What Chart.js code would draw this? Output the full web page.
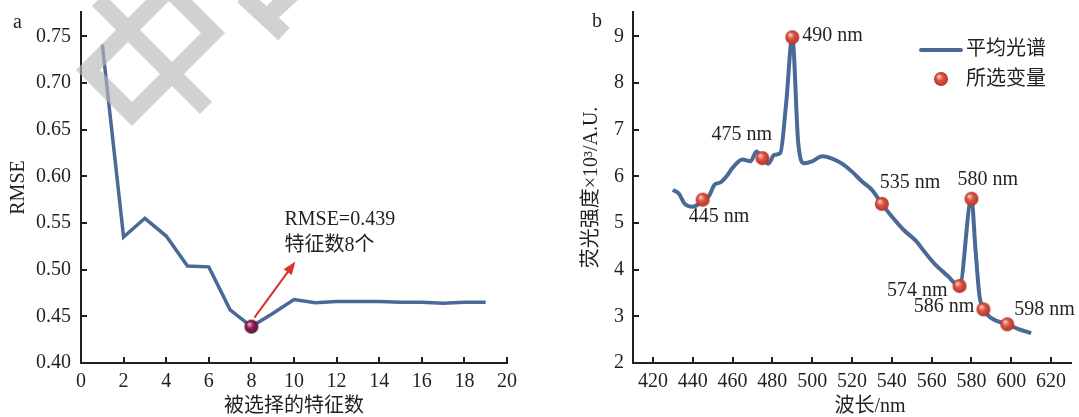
<!DOCTYPE html>
<html>
<head>
<meta charset="utf-8">
<script src="https://cdn.jsdelivr.net/npm/chart.js@4.4.0/dist/chart.umd.min.js"></script>
<style>
html, body { margin: 0; padding: 0; background: #fff; }
#wrap { position: relative; width: 1079px; height: 417px; overflow: hidden; }
#chartA { position: absolute; left: 0; top: 0; }
#chartB { position: absolute; left: 540px; top: 0; }
</style>
</head>
<body>
<div id="wrap">
  <canvas id="chartA" width="540" height="417"></canvas>
  <canvas id="chartB" width="539" height="417"></canvas>
</div>
<script>
// ---- panel a: RMSE against number of selected features
const featureCounts = [1, 2, 3, 4, 5, 6, 7, 8, 9, 10, 11, 12, 13, 14, 15, 16, 17, 18, 19];
const rmseValues = [0.741, 0.535, 0.555, 0.536, 0.504, 0.503, 0.457, 0.439, 0.453, 0.468,
                    0.4645, 0.466, 0.466, 0.466, 0.465, 0.465, 0.464, 0.465, 0.465];
const bestCount = 8;
const bestRmse = 0.439;
const aXTicks = [0, 2, 4, 6, 8, 10, 12, 14, 16, 18, 20];
const aYTicks = [0.40, 0.45, 0.50, 0.55, 0.60, 0.65, 0.70, 0.75];

// ---- panel b: mean fluorescence spectrum and selected wavelengths
const wavelengths = [430, 433, 436, 440, 443, 445, 448, 451, 454, 457, 460, 465, 469, 472, 475, 478,
                     481, 484, 487, 490, 493, 496, 500, 505, 510, 515, 520, 525, 530, 535, 540, 546,
                     552, 557, 562, 568, 574, 580, 582, 584, 586, 590, 598, 604, 610];
const intensities = [5.71, 5.63, 5.41, 5.35, 5.41, 5.50, 5.57, 5.82, 5.87, 6.00, 6.18, 6.36, 6.32, 6.53, 6.39, 6.27,
                     6.46, 6.50, 7.60, 8.98, 6.71, 6.28, 6.32, 6.43, 6.38, 6.27, 6.10, 5.89, 5.71, 5.41, 5.14, 4.85,
                     4.62, 4.35, 4.10, 3.87, 3.65, 5.52, 4.45, 3.45, 3.15, 2.96, 2.83, 2.72, 2.64];
const selectedWl = [445, 475, 490, 535, 574, 580, 586, 598];
const selectedVal = [5.50, 6.39, 8.98, 5.41, 3.65, 5.52, 3.15, 2.83];
const bXTicks = [420, 440, 460, 480, 500, 520, 540, 560, 580, 600, 620];
const bYTicks = [2, 3, 4, 5, 6, 7, 8, 9];

// label placement next to each selected point: [align, dx, dy]
const labelPlace = [['left', -14, 17], ['left', -51, -23], ['left', 10, -1], ['left', -2, -21],
                    ['right', -12, 5], ['left', -14, -19], ['right', -9, -3], ['left', 7, -15]];

const serif = "'Liberation Serif', 'Noto Sans CJK SC', serif";
const ink = '#231f20';
const lineBlue = '#4b6997';

function makeBall(r, light, base, dark) {
  const c = document.createElement('canvas');
  c.width = c.height = r * 2 + 2;
  const g = c.getContext('2d');
  const cx = r + 1, cy = r + 1;
  const grad = g.createRadialGradient(cx - r * 0.35, cy - r * 0.4, r * 0.05, cx, cy, r);
  grad.addColorStop(0, light);
  grad.addColorStop(0.45, base);
  grad.addColorStop(1, dark);
  g.fillStyle = grad;
  g.beginPath();
  g.arc(cx, cy, r, 0, Math.PI * 2);
  g.fill();
  return c;
}
const ballA = makeBall(7, '#f0b8cc', '#8e2252', '#5e1032');
const ballB = makeBall(7, '#fbd3c6', '#dc5444', '#b2352a');

// tick marks pointing into the plot
const innerTicks = {
  id: 'innerTicks',
  afterDraw(chart) {
    const { ctx, scales: { x, y } } = chart;
    ctx.save();
    ctx.strokeStyle = ink;
    ctx.lineWidth = 2;
    ctx.beginPath();
    x.ticks.forEach(t => {
      const px = Math.round(x.getPixelForValue(t.value));
      if (px - x.left < 2) return;
      ctx.moveTo(px, y.bottom);
      ctx.lineTo(px, y.bottom - 6);
    });
    y.ticks.forEach(t => {
      const py = Math.round(y.getPixelForValue(t.value));
      if (y.bottom - py < 2) return;
      ctx.moveTo(x.left, py);
      ctx.lineTo(x.left + 6, py);
    });
    ctx.stroke();
    ctx.restore();
  }
};

function axisCommon(ticksArr, fmt, pad) {
  return {
    type: 'linear',
    afterBuildTicks: s => { s.ticks = ticksArr.map(v => ({ value: v })); },
    grid: { display: true, drawOnChartArea: false, drawTicks: false },
    border: { display: true, color: ink, width: 2 },
    ticks: {
      color: ink, padding: pad, autoSkip: false, maxRotation: 0,
      font: { family: serif, size: 20 },
      callback: fmt
    }
  };
}

function fixSize(prop, size) {
  return s => {
    s[prop] = size;
    s.paddingTop = 0; s.paddingBottom = 0; s.paddingLeft = 0; s.paddingRight = 0;
  };
}

// ---- panel a annotations: arrow, text, watermark
const annotateA = {
  id: 'annotateA',
  afterDatasetsDraw(chart) {
    const { ctx, scales: { x, y } } = chart;
    const mx = x.getPixelForValue(bestCount), my = y.getPixelForValue(bestRmse);
    ctx.save();
    // watermark
    ctx.strokeStyle = 'rgba(185,185,185,0.65)';
    ctx.lineWidth = 17;
    ctx.lineJoin = 'miter';
    ctx.beginPath();
    ctx.moveTo(88, 70); ctx.lineTo(132, 114); ctx.lineTo(213, 33); ctx.lineTo(169, -11); ctx.closePath();
    ctx.moveTo(98, 0); ctx.lineTo(206, 108);
    ctx.moveTo(243, -4); ctx.lineTo(284, 34);
    ctx.moveTo(264, 20); ctx.lineTo(296, -10);
    ctx.stroke();

    // arrow
    const x0 = mx + 3, y0 = my - 9, x1 = mx + 44, y1 = my - 65;
    const ang = Math.atan2(y1 - y0, x1 - x0);
    ctx.strokeStyle = '#d9322a';
    ctx.fillStyle = '#d9322a';
    ctx.lineWidth = 2;
    ctx.beginPath();
    ctx.moveTo(x0, y0);
    ctx.lineTo(x1 - 10 * Math.cos(ang), y1 - 10 * Math.sin(ang));
    ctx.stroke();
    ctx.beginPath();
    ctx.moveTo(x1, y1);
    ctx.lineTo(x1 - 13 * Math.cos(ang) + 5 * Math.sin(ang), y1 - 13 * Math.sin(ang) - 5 * Math.cos(ang));
    ctx.lineTo(x1 - 13 * Math.cos(ang) - 5 * Math.sin(ang), y1 - 13 * Math.sin(ang) + 5 * Math.cos(ang));
    ctx.closePath();
    ctx.fill();

    ctx.fillStyle = ink;
    ctx.font = '20px ' + serif;
    ctx.textAlign = 'left';
    ctx.textBaseline = 'middle';
    ctx.fillText('RMSE=' + bestRmse, mx + 33, my - 107);
    ctx.fillText('特征数' + bestCount + '个', mx + 33, my - 81);
    ctx.fillText('a', 13, 23);
    ctx.restore();
  }
};

new Chart(document.getElementById('chartA'), {
  type: 'line',
  data: {
    datasets: [
      { data: [{ x: bestCount, y: bestRmse }], showLine: false, pointStyle: ballA, pointRadius: 7 },
      {
        data: featureCounts.map((c, i) => ({ x: c, y: rmseValues[i] })),
        borderColor: lineBlue, borderWidth: 3.5, pointRadius: 0, tension: 0
      }
    ]
  },
  options: {
    responsive: false,
    animation: false,
    layout: { padding: { top: 12, right: 33, left: 0, bottom: 0 } },
    plugins: { legend: { display: false }, tooltip: { enabled: false } },
    scales: {
      x: Object.assign(axisCommon(aXTicks, v => String(v), 7), {
        min: 0, max: 20,
        afterFit: fixSize('height', 54),
        title: { display: true, text: '被选择的特征数', color: ink, padding: 0,
                 font: { family: serif, size: 20, lineHeight: 1 } }
      }),
      y: Object.assign(axisCommon(aYTicks, v => v.toFixed(2), 10), {
        min: 0.40, max: 0.776,
        afterFit: fixSize('width', 81),
        title: { display: true, text: 'RMSE', color: ink, padding: { top: 7, bottom: 0 },
                 font: { family: serif, size: 20 } }
      })
    }
  },
  plugins: [innerTicks, annotateA]
});

// ---- panel b annotations: point labels, legend, x title
const annotateB = {
  id: 'annotateB',
  afterDatasetsDraw(chart) {
    const { ctx, chartArea, scales: { x, y } } = chart;
    ctx.save();
    ctx.fillStyle = ink;
    ctx.font = '20px ' + serif;
    ctx.textBaseline = 'middle';
    selectedWl.forEach((wl, i) => {
      const [align, dx, dy] = labelPlace[i];
      ctx.textAlign = align;
      ctx.fillText(wl + ' nm', x.getPixelForValue(wl) + dx, y.getPixelForValue(selectedVal[i]) + dy);
    });

    // legend
    const lx = chartArea.right - 150;
    ctx.strokeStyle = lineBlue;
    ctx.lineWidth = 4;
    ctx.lineCap = 'round';
    ctx.beginPath();
    ctx.moveTo(lx, 50);
    ctx.lineTo(lx + 40, 50);
    ctx.stroke();
    ctx.drawImage(ballB, lx + 20 - 8, 79 - 8);
    ctx.textAlign = 'left';
    ctx.fillText('平均光谱', lx + 45, 50);
    ctx.fillText('所选变量', lx + 45, 80);

    ctx.textAlign = 'center';
    ctx.fillText('波长/nm', 330, 407);
    ctx.textAlign = 'left';
    ctx.fillText('b', 52, 22);
    ctx.restore();
  }
};

new Chart(document.getElementById('chartB'), {
  type: 'line',
  data: {
    datasets: [
      {
        data: selectedWl.map((w, i) => ({ x: w, y: selectedVal[i] })),
        showLine: false, pointStyle: ballB, pointRadius: 7
      },
      {
        data: wavelengths.map((w, i) => ({ x: w, y: intensities[i] })),
        borderColor: lineBlue, borderWidth: 4, pointRadius: 0,
        cubicInterpolationMode: 'monotone'
      }
    ]
  },
  options: {
    responsive: false,
    animation: false,
    layout: { padding: { top: 12, right: 7, left: 0, bottom: 0 } },
    plugins: { legend: { display: false }, tooltip: { enabled: false } },
    scales: {
      x: Object.assign(axisCommon(bXTicks, v => String(v), 7), {
        min: 410, max: 630,
        afterFit: fixSize('height', 54)
      }),
      y: Object.assign(axisCommon(bYTicks, v => String(v), 9), {
        min: 2, max: 9.52,
        afterFit: fixSize('width', 93),
        title: { display: true, text: '荧光强度×10³/A.U.', color: ink, padding: { top: 40, bottom: 0 },
                 font: { family: serif, size: 20 } }
      })
    }
  },
  plugins: [innerTicks, annotateB]
});
</script>
</body>
</html>
